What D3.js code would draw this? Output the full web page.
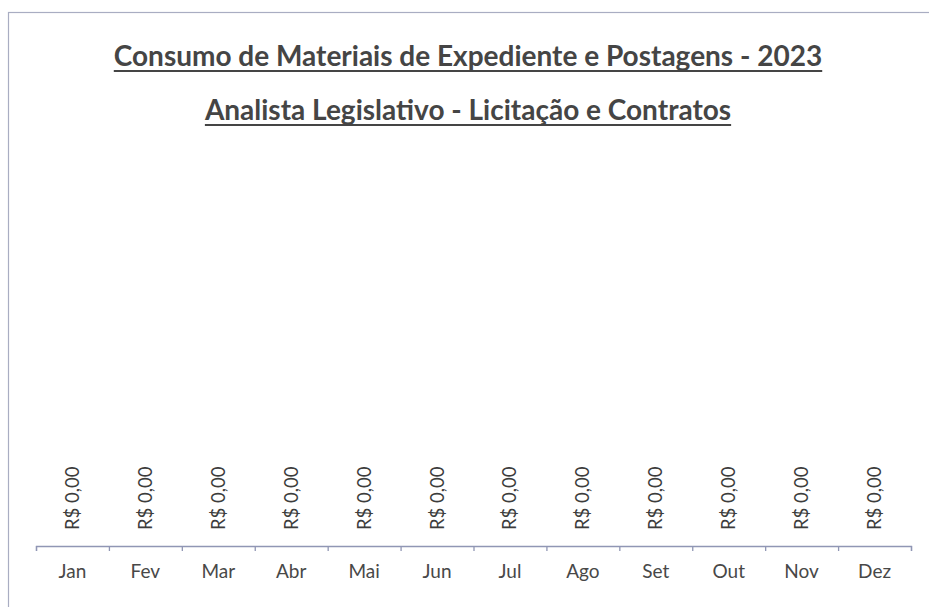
<!DOCTYPE html>
<html>
<head>
<meta charset="utf-8">
<script src="https://cdn.jsdelivr.net/npm/d3@7"></script>
<style>
    html, body { margin: 0; padding: 0; background: #fff; }
    svg { display: block; font-family: Lato, "Open Sans", sans-serif; }
</style>
</head>
<body>
<div id="chart"></div>
<script>
"use strict";

var months = ["Jan", "Fev", "Mar", "Abr", "Mai", "Jun", "Jul", "Ago", "Set", "Out", "Nov", "Dez"];
var values = [0, 0, 0, 0, 0, 0, 0, 0, 0, 0, 0, 0];
var titles = [
    "Consumo de Materiais de Expediente e Postagens - 2023",
    "Analista Legislativo - Licitação e Contratos"
];

(function () {
    var width = 929,
        height = 607,
        plot = { left: 36, right: 911, top: 150, bottom: 546 },
        axisColor = "#9096b4",
        svg, x, xIdx, y, fmt;

    svg = d3.select("#chart").append("svg")
        .attr("width", width)
        .attr("height", height);

    // scanned page frame, runs off the right and bottom
    svg.append("rect")
        .attr("x", 8.5).attr("y", 12.5)
        .attr("width", 960).attr("height", 640)
        .attr("fill", "none")
        .attr("stroke", "#a9adc2")
        .attr("stroke-width", 1.2);

    // titles, underlined
    titles.forEach(function (t, i) {
        var cx = 468,
            base = 66 + i * 54,
            txt = svg.append("text")
                .attr("x", cx)
                .attr("y", base)
                .attr("text-anchor", "middle")
                .attr("fill", "#454545")
                .style("font-size", "28px")
                .style("font-weight", "bold")
                .text(t),
            w = txt.node().getComputedTextLength();

        svg.append("line")
            .attr("x1", cx - w / 2)
            .attr("x2", cx + w / 2)
            .attr("y1", base + 5)
            .attr("y2", base + 5)
            .attr("stroke", "#454545")
            .attr("stroke-width", 2);
    });

    x = d3.scaleBand().domain(months).range([plot.left, plot.right]).padding(0);
    xIdx = d3.scaleLinear().domain([0, months.length]).range([plot.left, plot.right]);
    y = d3.scaleLinear().domain([0, 1]).range([plot.bottom, plot.top]);

    fmt = function (v) {
        return "R$ " + d3.format(",.2f")(v).replace(".", "#").replace(/,/g, ".").replace("#", ",");
    };

    svg.selectAll(".bar").data(values).enter().append("rect")
        .attr("class", "bar")
        .attr("x", function (d, i) { return x(months[i]) + x.bandwidth() * 0.2; })
        .attr("width", x.bandwidth() * 0.6)
        .attr("y", function (d) { return y(d); })
        .attr("height", function (d) { return plot.bottom - y(d); })
        .attr("fill", "#4472c4");

    svg.selectAll(".lbl").data(values).enter().append("text")
        .attr("class", "lbl")
        .attr("transform", function (d, i) {
            return "translate(" + (x(months[i]) + x.bandwidth() / 2) + "," + (y(d) - 16) + ") rotate(-90)";
        })
        .attr("dy", "0.35em")
        .attr("fill", "#3c3c3c")
        .style("font-size", "18.5px")
        .text(function (d) { return fmt(d); });

    // axis line with ticks between categories
    svg.append("g")
        .attr("transform", "translate(0," + plot.bottom + ")")
        .call(d3.axisBottom(xIdx).tickValues(d3.range(months.length + 1))
            .tickFormat("").tickSizeInner(5).tickSizeOuter(5))
        .call(function (g) {
            g.selectAll("path, line").attr("stroke", axisColor).attr("stroke-width", 1.3);
        });

    svg.append("g")
        .attr("transform", "translate(0," + plot.bottom + ")")
        .call(d3.axisBottom(x).tickSize(0).tickPadding(19))
        .call(function (g) {
            g.select(".domain").remove();
            g.selectAll("text")
                .attr("fill", "#484848")
                .style("font-family", "Lato, 'Open Sans', sans-serif")
                .style("font-size", "19px");
        });
}());
</script>
</body>
</html>
